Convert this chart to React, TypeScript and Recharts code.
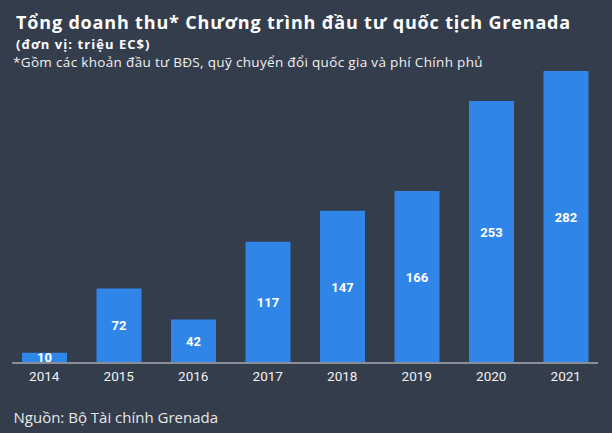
import React from "react";
import { BarChart, Bar, XAxis, YAxis, LabelList } from "recharts";

const years = ["2014", "2015", "2016", "2017", "2018", "2019", "2020", "2021"];
const revenue = [10, 72, 42, 117, 147, 166, 253, 282];

const titleText = "Tổng doanh thu* Chương trình đầu tư quốc tịch Grenada";
const unitText = "(đơn vị: triệu EC$)";
const noteText = "*Gồm các khoản đầu tư BĐS, quỹ chuyển đổi quốc gia và phí Chính phủ";
const sourceText = "Nguồn: Bộ Tài chính Grenada";

const data = years.map((y, i) => ({ year: y, value: revenue[i] }));

const BG = "#343d4c";
const BAR = "#2f86e8";
const FONT = "Roboto, 'Open Sans', sans-serif";
const HEAD = "'Open Sans', sans-serif";

export default function App() {
  return (
    <div
      style={{
        position: "absolute",
        left: 0,
        top: 0,
        width: 612,
        height: 433,
        background: BG,
        overflow: "hidden",
        fontFamily: FONT,
      }}
    >
      <div style={{ position: "absolute", left: 16, top: 12.3, color: "#ffffff", fontSize: 18, letterSpacing: 0.83, fontWeight: 700, fontFamily: HEAD, whiteSpace: "nowrap", lineHeight: "20px" }}>
        {titleText}
      </div>
      <div style={{ position: "absolute", left: 16, top: 36.5, color: "#ffffff", fontSize: 13, letterSpacing: 1.05, fontWeight: 700, fontFamily: HEAD, whiteSpace: "nowrap", lineHeight: "14px" }}>
        {unitText}
      </div>
      <div style={{ position: "absolute", left: 13, top: 53.8, color: "#f0f0f0", fontSize: 13.5, letterSpacing: 0.33, fontFamily: HEAD, whiteSpace: "nowrap", lineHeight: "16px" }}>
        {noteText}
      </div>
      <div style={{ position: "absolute", left: 13.5, top: 406.5, color: "#e8e8e8", fontSize: 15, fontFamily: HEAD, whiteSpace: "nowrap", lineHeight: "20px" }}>
        {sourceText}
      </div>
      <div style={{ position: "absolute", left: 0, top: 0 }}>
        <BarChart
          width={612}
          height={433}
          data={data}
          margin={{ top: 71, right: 14, bottom: 40, left: 12 }}
          barSize={45}
        >
          <YAxis hide domain={[0, 282]} />
          <XAxis
            dataKey="year"
            height={30}
            tickLine={false}
            padding={{ left: -5, right: -5 }}
            axisLine={{ stroke: "#8a8e96", strokeWidth: 2 }}
            tick={{ fill: "#f2f2f2", fontSize: 13.5, fontFamily: FONT }}
            interval={0}
          />
          <Bar dataKey="value" fill={BAR} isAnimationActive={false}>
            <LabelList
              dataKey="value"
              position="center"
              fill="#ffffff"
              style={{ fontSize: 13, fontWeight: 700, fontFamily: FONT }}
            />
          </Bar>
        </BarChart>
      </div>
    </div>
  );
}
